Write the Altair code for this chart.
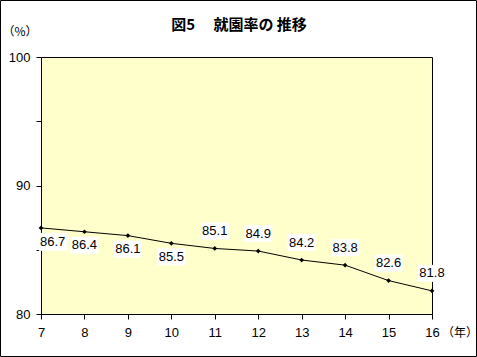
import altair as alt
import pandas as pd

years = [7, 8, 9, 10, 11, 12, 13, 14, 15, 16]
rates = [86.7, 86.4, 86.1, 85.5, 85.1, 84.9, 84.2, 83.8, 82.6, 81.8]
label_pos = ["first", "below", "below", "below", "above", "above", "above", "above", "above", "above"]
title_text = "図5　  就園率の  推移"
y_unit = "（%）"
x_unit = "（年）"

df = pd.DataFrame({"year": years, "rate": rates, "pos": label_pos})
df["label"] = df["rate"].map(lambda v: f"{v:.1f}")

NUM_FONT = "Liberation Sans"
JP_FONT = "Noto Sans CJK JP"

x = alt.X("year:Q", scale=alt.Scale(domain=[7, 16], nice=False, zero=False),
          axis=alt.Axis(values=years, title=None, labelFont=NUM_FONT, labelFontSize=13,
                        labelColor="black", tickColor="black", domainColor="black",
                        tickSize=5, labelPadding=7, grid=False, labelFlush=False))
y = alt.Y("rate:Q", scale=alt.Scale(domain=[80, 100], nice=False, zero=False),
          axis=alt.Axis(values=[80, 85, 90, 95, 100], title=None, labelFont=NUM_FONT,
                        labelFontSize=13, labelColor="black", tickColor="black",
                        domainColor="black", tickSize=5, labelPadding=6, grid=False,
                        labelExpr="datum.value % 10 == 0 ? datum.label : ''"))

base = alt.Chart(df)

line = base.mark_line(color="black", strokeWidth=1).encode(x=x, y=y)
pts = base.mark_point(shape="diamond", filled=True, color="black", size=22, opacity=1).encode(x=x, y=y)

def boxes(pos, xo, x2o, yo, y2o):
    return base.transform_filter(alt.datum.pos == pos).mark_rect(
        color="white", xOffset=xo, x2Offset=x2o, yOffset=yo, y2Offset=y2o
    ).encode(x="year:Q", x2="year:Q", y="rate:Q", y2="rate:Q")

def texts(pos, align, dx, dy):
    return base.transform_filter(alt.datum.pos == pos).mark_text(
        font=NUM_FONT, fontSize=13, color="black", align=align, baseline="middle", dx=dx, dy=dy
    ).encode(x="year:Q", y="rate:Q", text="label:N")

box_first = boxes("first", -2, 26, 5, 23)
box_below = boxes("below", -14, 14, 5, 22)
box_above = boxes("above", -14, 14, -26, -9)
txt_first = texts("first", "left", -1, 14)
txt_below = texts("below", "center", 0, 13.5)
txt_above = texts("above", "center", 0, -17.5)

one = alt.Chart(pd.DataFrame({"t": [title_text], "yu": [y_unit], "xu": [x_unit]}))
title = one.mark_text(font=JP_FONT, fontSize=15, fontWeight="bold", color="black",
                      align="center", baseline="middle").encode(
    x=alt.value(198), y=alt.value(-32), text="t:N")
yunit = one.mark_text(font=JP_FONT, fontSize=12, color="black", align="center",
                      baseline="middle").encode(x=alt.value(-21), y=alt.value(-25), text="yu:N")
xunit = one.mark_text(font=JP_FONT, fontSize=12, color="black", align="center",
                      baseline="middle").encode(x=alt.value(419), y=alt.value(276), text="xu:N")
border = one.mark_rect(fillOpacity=0, stroke="black", strokeWidth=1).encode(
    x=alt.value(-40.5), x2=alt.value(435.5), y=alt.value(-56.5), y2=alt.value(299.5))

chart = alt.layer(
    line, pts, box_first, box_below, box_above, txt_first, txt_below, txt_above,
    title, yunit, xunit, border
).properties(
    width=391, height=257,
    autosize=alt.AutoSizeParams(type="none"),
    padding={"left": 41, "top": 57, "right": 45, "bottom": 43},
    background="white",
).configure_view(fill="#FFFFCC", stroke="black", strokeWidth=1)

chart.save("out.html", embed_options={"renderer": "svg", "actions": False})
